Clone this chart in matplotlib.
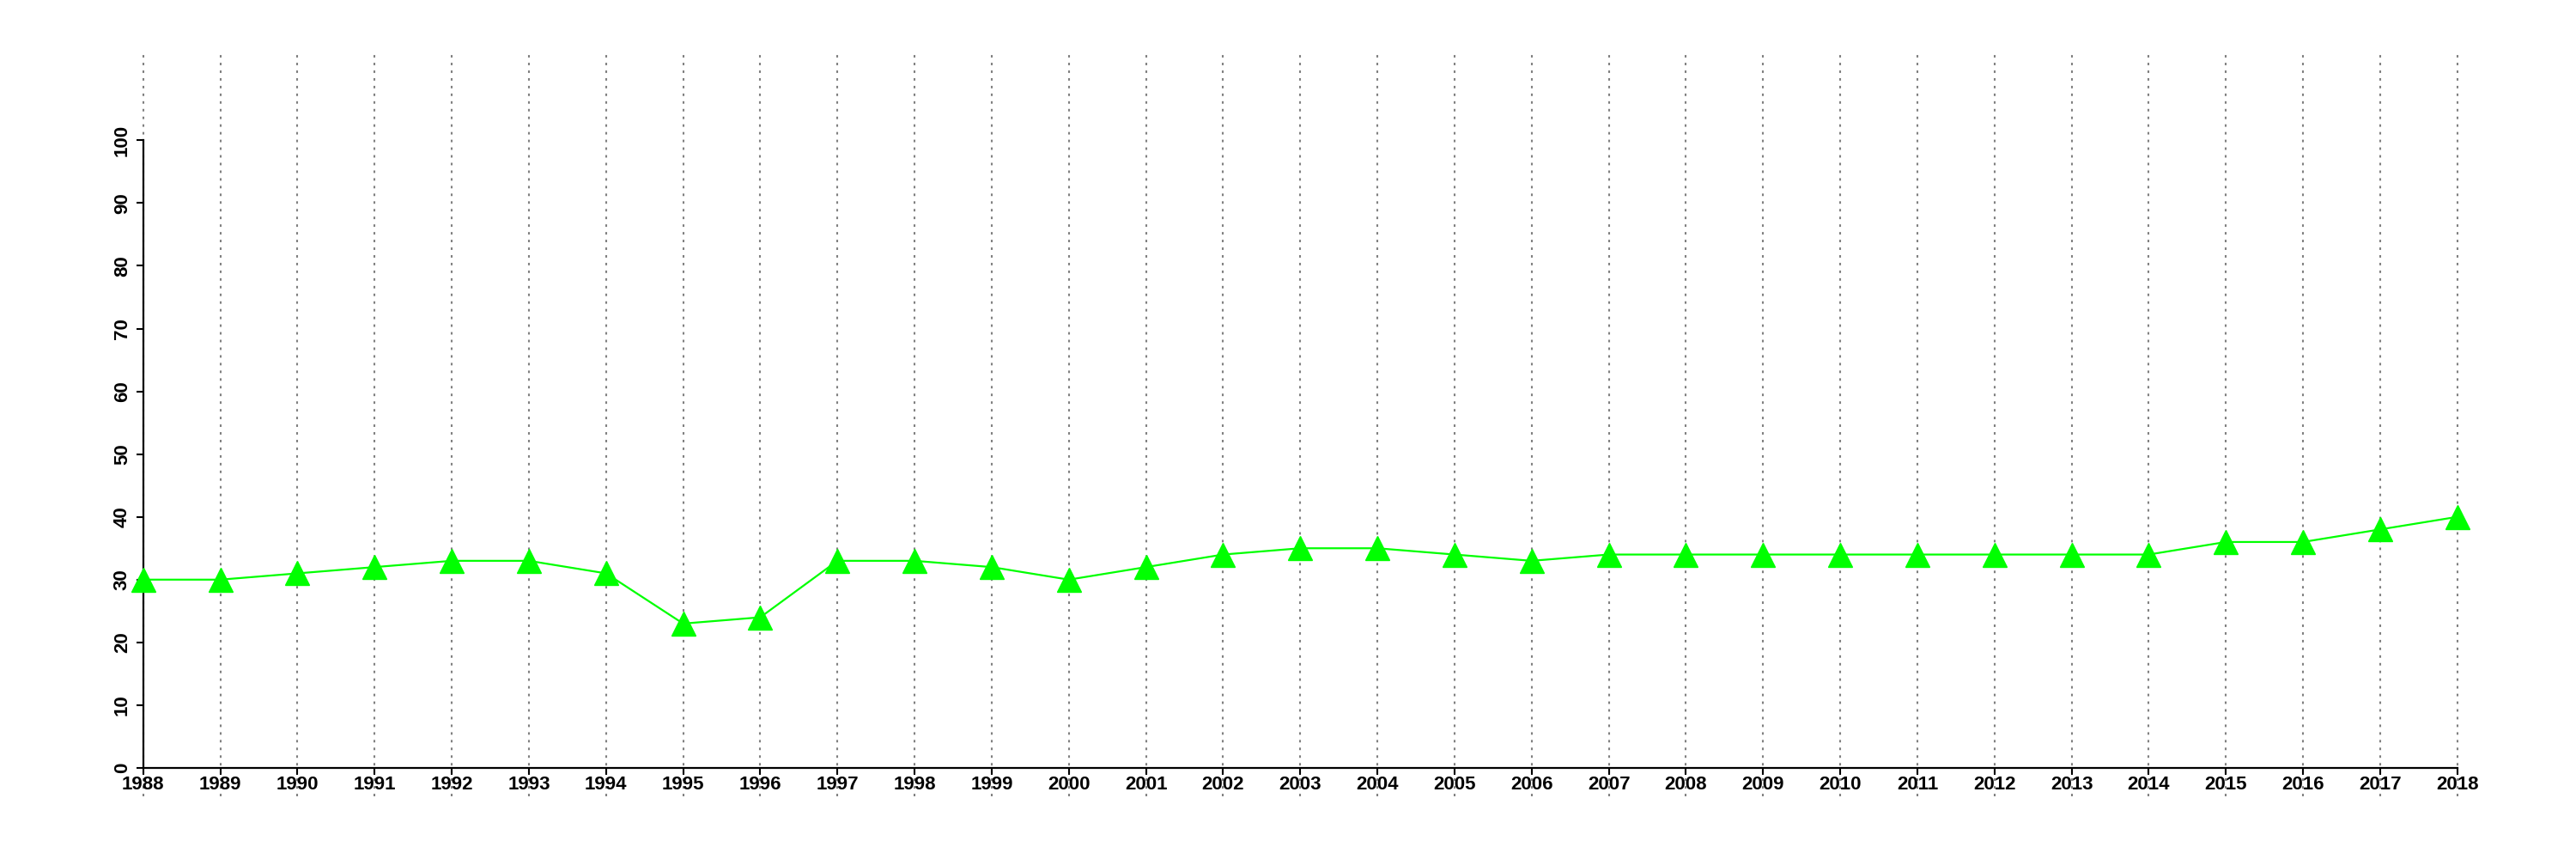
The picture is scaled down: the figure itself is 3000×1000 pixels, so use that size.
import matplotlib.pyplot as plt
import numpy as np

plt.rcParams['font.family'] = ['Liberation Sans', 'DejaVu Sans']

years = list(range(1988, 2019))
values = [30, 30, 31, 32, 33, 33, 31, 23, 24, 33, 33, 32, 30, 32, 34, 35,
          35, 34, 33, 34, 34, 34, 34, 34, 34, 34, 34, 36, 36, 38, 40]
yticks = list(range(0, 101, 10))

fig = plt.figure(figsize=(30, 10), dpi=100)
ax = fig.add_axes([0.0556, 0.106, 0.8983, 0.7307])

# dotted year lines, running past the plot box like the original
ax.vlines(years, -4.5, 114, colors='#808080', linestyles=(0, (1.4, 2.9)),
          linewidth=1.5, clip_on=False, zorder=1)

ax.plot(years, values, color='#00ff00', linewidth=1.6, marker='^',
        markersize=20, clip_on=False, zorder=3)

ax.set_xlim(1988, 2018)
ax.set_ylim(0, 100)
ax.set_xticks(years)
ax.set_xticklabels([str(y) for y in years], fontsize=16, fontweight='bold')
ax.set_yticks(yticks)
ax.set_yticklabels([str(t) for t in yticks], fontsize=16, fontweight='bold',
                   rotation=90, va='center')
ax.tick_params(axis='both', length=6, width=1.5)
ax.tick_params(axis='x', pad=0.5)
ax.tick_params(axis='y', pad=4)

for s in ['top', 'right']:
    ax.spines[s].set_visible(False)
ax.spines['left'].set_linewidth(1.6)
ax.spines['bottom'].set_linewidth(1.6)

plt.savefig('out.png', dpi=100)
